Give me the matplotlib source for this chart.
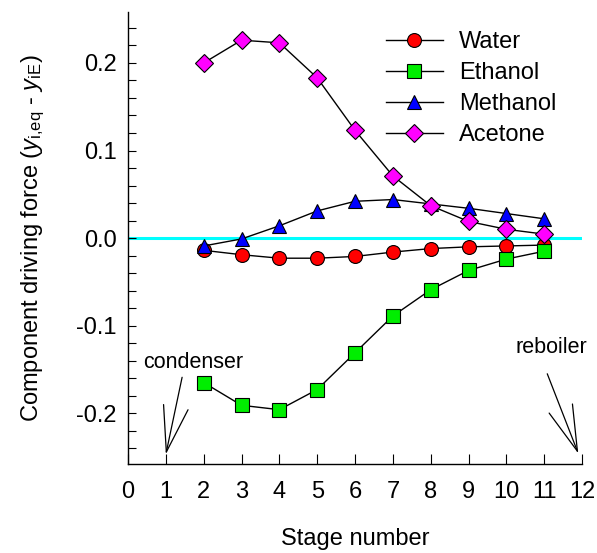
import matplotlib
matplotlib.use("Agg")
import matplotlib.pyplot as plt
from matplotlib.ticker import MultipleLocator

plt.rcParams['font.family'] = ['Liberation Sans', 'DejaVu Sans']
plt.rcParams['mathtext.fontset'] = 'custom'
plt.rcParams['mathtext.rm'] = 'Liberation Sans'
plt.rcParams['mathtext.it'] = 'Liberation Sans:italic'
plt.rcParams['axes.unicode_minus'] = False

stages = [2, 3, 4, 5, 6, 7, 8, 9, 10, 11]
water = [-0.014, -0.019, -0.023, -0.023, -0.021, -0.016, -0.012, -0.010, -0.009, -0.008]
ethanol = [-0.165, -0.191, -0.196, -0.173, -0.131, -0.089, -0.059, -0.037, -0.024, -0.015]
methanol = [-0.009, -0.001, 0.014, 0.031, 0.042, 0.044, 0.039, 0.034, 0.028, 0.022]
acetone = [0.200, 0.226, 0.223, 0.183, 0.123, 0.071, 0.037, 0.019, 0.010, 0.0045]
xticks = list(range(0, 13))
yticks = [-0.2, -0.1, 0.0, 0.1, 0.2]
ytick_labels = ['-0.2', '-0.1', '0.0', '0.1', '0.2']

fig = plt.figure(figsize=(5.97, 5.53), dpi=100)
ax = fig.add_axes([0.2144, 0.161, 0.7606, 0.817])

ax.axhline(0, color='#00FFFF', lw=2.2, zorder=1)

ax.plot(stages, water, '-o', color='black', lw=1, mfc='#FF0000', mec='black',
        mew=0.8, ms=10, label='Water', zorder=3)
ax.plot(stages, ethanol, '-s', color='black', lw=1, mfc='#00EE00', mec='black',
        mew=0.8, ms=9.6, label='Ethanol', zorder=3)
ax.plot(stages, methanol, '-^', color='black', lw=1, mfc='#0000FF', mec='black',
        mew=0.8, ms=10, label='Methanol', zorder=3)
ax.plot(stages, acetone, '-D', color='black', lw=1, mfc='#FF00FF', mec='black',
        mew=0.8, ms=9, label='Acetone', zorder=4)

ax.set_xlim(0, 12)
ax.set_ylim(-0.258, 0.258)
ax.set_xticks(xticks)
ax.set_yticks(yticks)
ax.set_yticklabels(ytick_labels)
ax.yaxis.set_minor_locator(MultipleLocator(0.02))
ax.tick_params(axis='both', which='both', direction='in', labelsize=17)
ax.tick_params(axis='y', which='both', length=6, width=0.8, pad=8)
ax.tick_params(axis='x', which='major', length=7, width=0.8, pad=12)
for s in ['top', 'right']:
    ax.spines[s].set_visible(False)
for s in ['left', 'bottom']:
    ax.spines[s].set_linewidth(1.0)

ax.set_xlabel('Stage number', fontsize=17, labelpad=18)
ax.set_ylabel(r'Component driving force ($y_\mathrm{i{,}eq}$ - $y_\mathrm{iE}$)',
              fontsize=17, labelpad=21)

leg = ax.legend(loc='upper right', bbox_to_anchor=(0.975, 0.99), frameon=False,
                fontsize=17, handlelength=2.4, handletextpad=0.7,
                labelspacing=0.38, borderaxespad=0.2)

arrow_kw = dict(arrowstyle='->,head_length=3.3,head_width=0.9', color='black',
                lw=0.9, mutation_scale=10, shrinkA=0, shrinkB=0)
ax.annotate('', xy=(1.0, -0.247), xytext=(1.43, -0.159), arrowprops=arrow_kw)
ax.annotate('', xy=(11.9, -0.246), xytext=(11.08, -0.155), arrowprops=arrow_kw)
ax.text(1.72, -0.142, 'condenser', fontsize=15.5, ha='center', va='center')
ax.text(11.2, -0.125, 'reboiler', fontsize=15.5, ha='center', va='center')

fig.savefig('out.png', dpi=100)
